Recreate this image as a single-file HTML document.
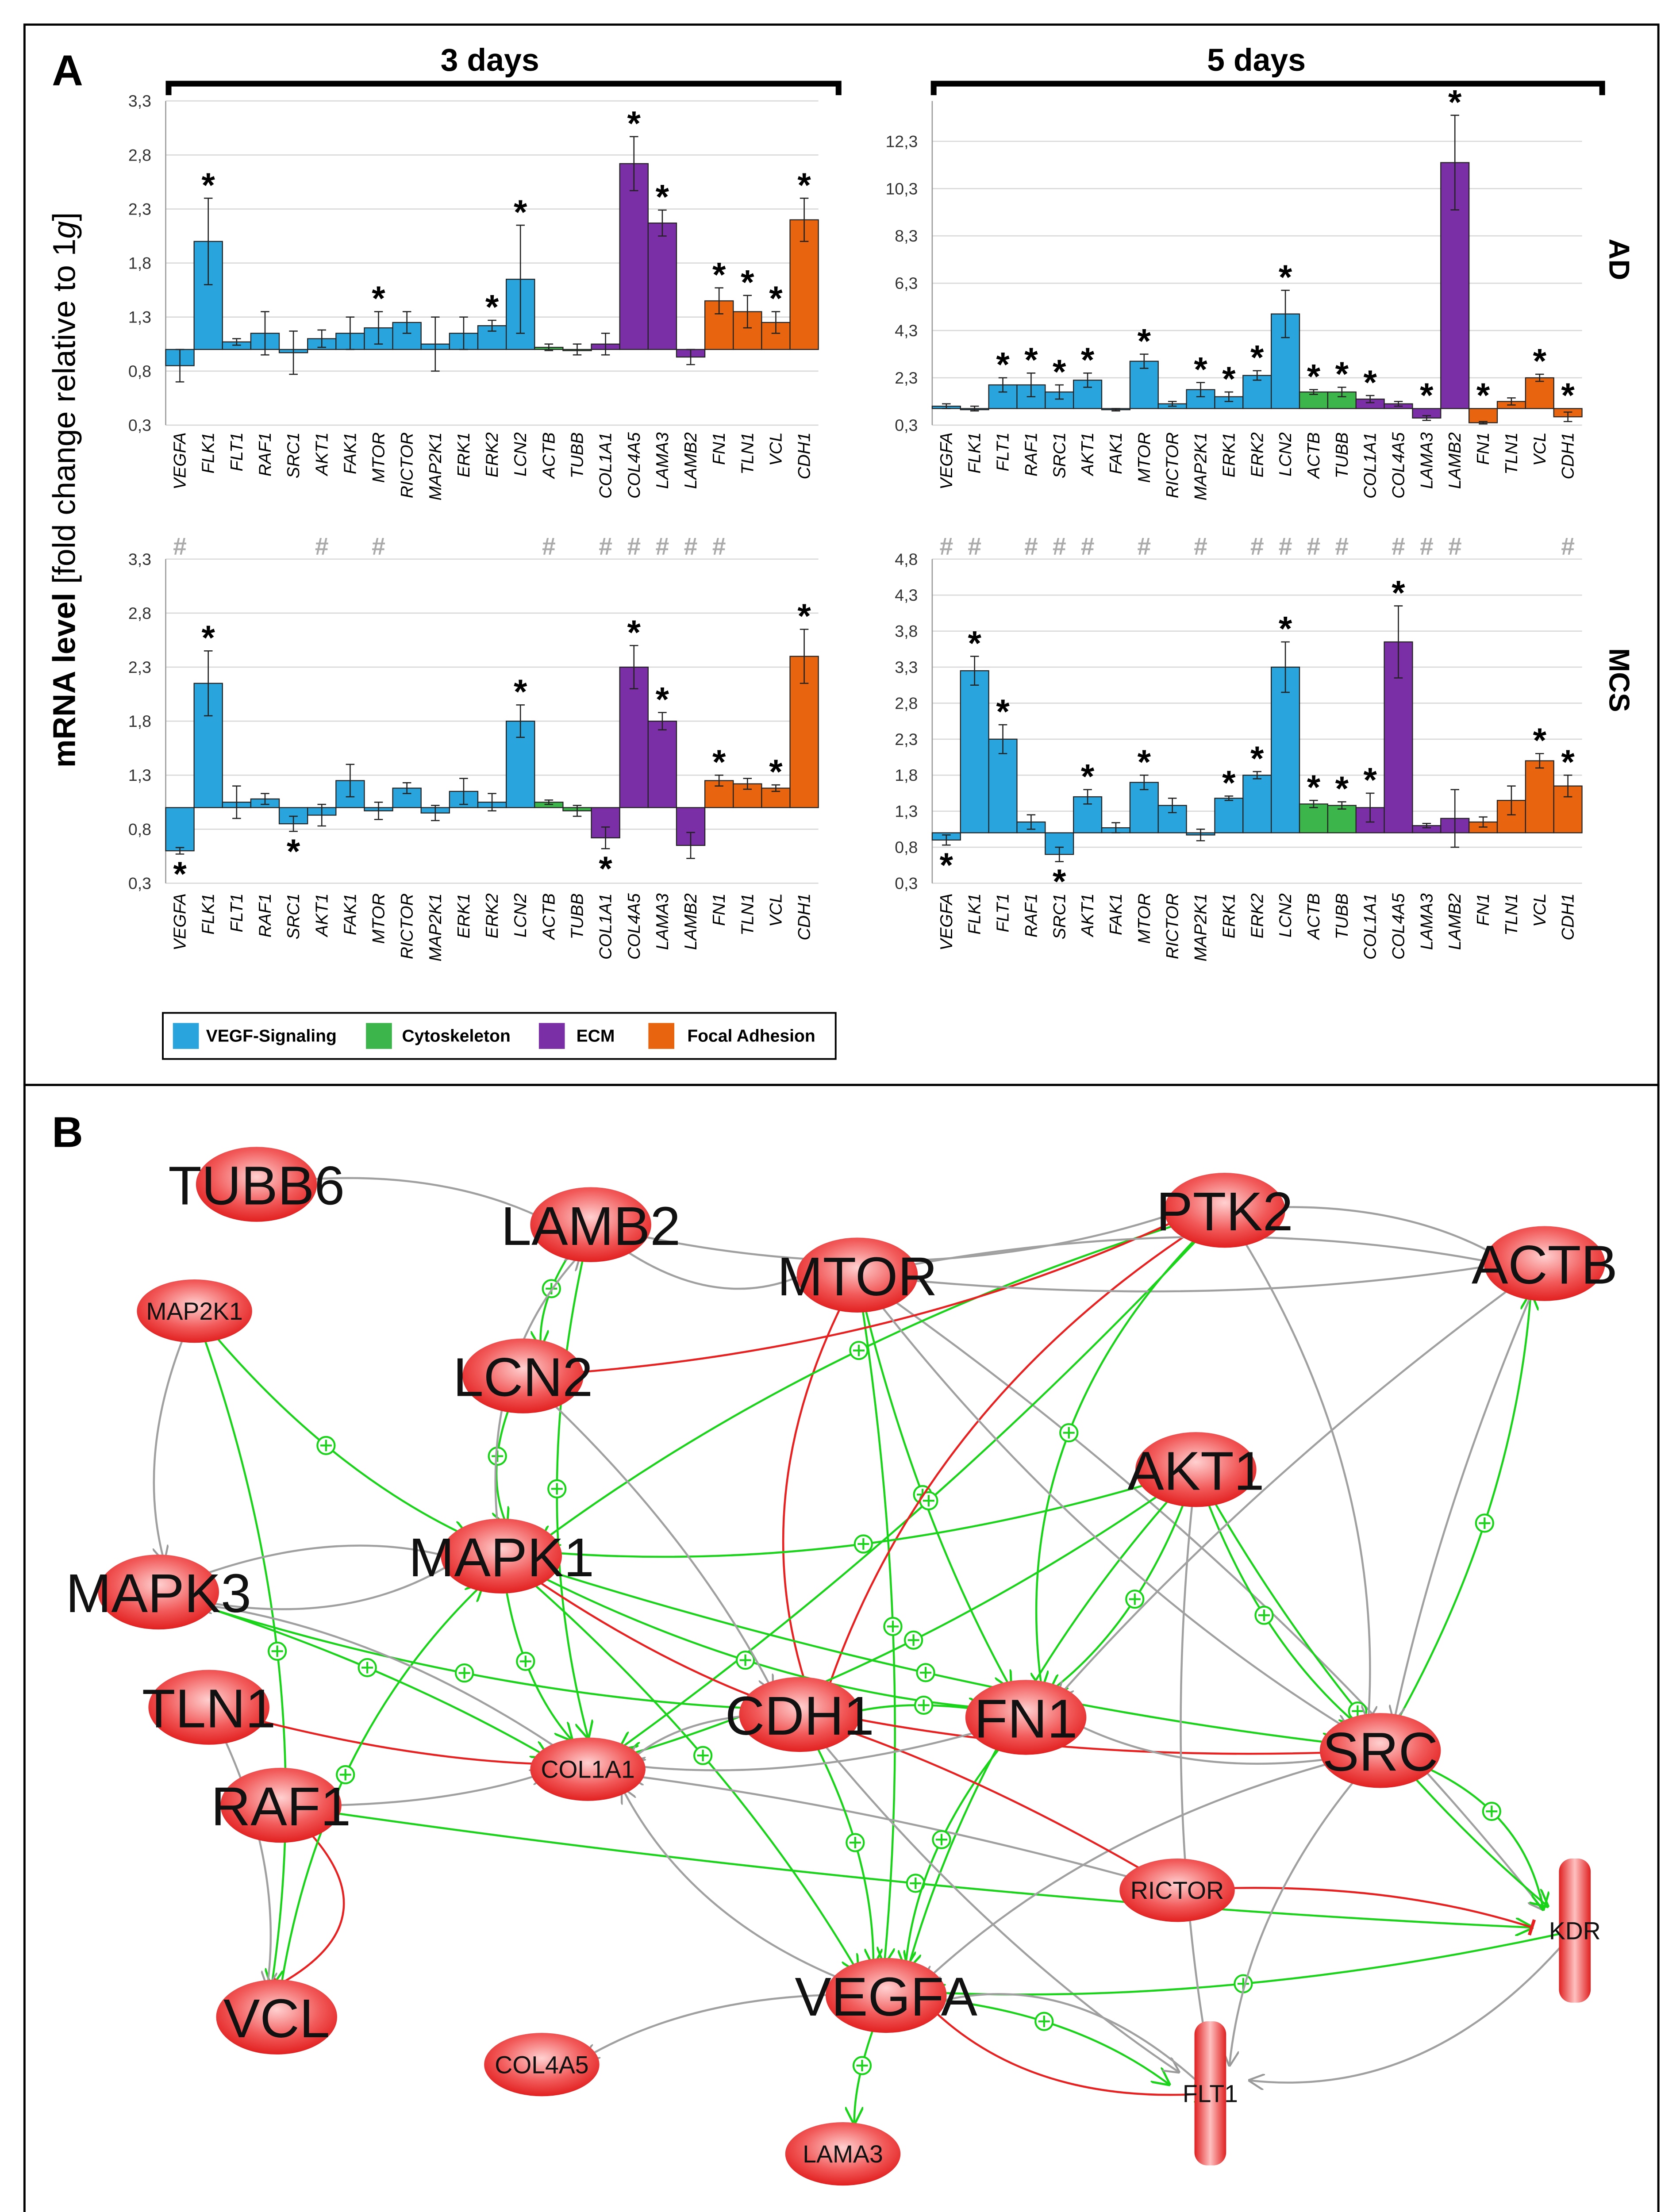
<!DOCTYPE html>
<html><head><meta charset="utf-8">
<style>
html,body{margin:0;padding:0;background:#fff;width:3797px;height:5061px;overflow:hidden;}
svg{display:block;position:absolute;left:0;top:0;font-family:"Liberation Sans",Arial,sans-serif;}
</style></head>
<body>
<svg id="fig" width="3797" height="5061" viewBox="0 0 1166 1554" xmlns="http://www.w3.org/2000/svg">
<defs>
<radialGradient id="ng" cx="50%" cy="40%" r="60%">
<stop offset="0" stop-color="#ffd0d0"/><stop offset="0.6" stop-color="#f25a5a"/><stop offset="1" stop-color="#e22020"/>
</radialGradient>
<linearGradient id="rg" x1="0" x2="1"><stop offset="0" stop-color="#e02020"/><stop offset="0.5" stop-color="#ffc0c0"/><stop offset="1" stop-color="#e02020"/></linearGradient>
<marker id="ag" viewBox="0 0 10 10" refX="9" refY="5" markerWidth="8" markerHeight="8" orient="auto"><path d="M0,0 L10,5 L0,10" fill="none" stroke="#999" stroke-width="1.2"/></marker>
<marker id="agr" viewBox="0 0 10 10" refX="9" refY="5" markerWidth="9" markerHeight="9" orient="auto"><path d="M0,0 L10,5 L0,10" fill="none" stroke="#19d419" stroke-width="1.2"/></marker>
<marker id="ar" viewBox="0 0 10 10" refX="5" refY="5" markerWidth="8" markerHeight="8" orient="auto"><path d="M5,0 L5,10" stroke="#e82020" stroke-width="2"/></marker>
</defs>
<rect x="17" y="17" width="1134" height="736" fill="none" stroke="#000" stroke-width="1.5"/>
<rect x="17" y="753" width="1134" height="797" fill="none" stroke="#000" stroke-width="1.5"/>
<text x="36" y="59" font-size="30" font-weight="bold">A</text>
<text x="36" y="796" font-size="30" font-weight="bold">B</text>
<text transform="translate(52,340) rotate(-90)" text-anchor="middle" font-size="22"><tspan font-weight="bold">mRNA level</tspan> [fold change relative to 1<tspan font-style="italic">g</tspan>]</text>
<text x="340" y="49" text-anchor="middle" font-size="22" font-weight="bold">3 days</text>
<text x="872" y="49" text-anchor="middle" font-size="22" font-weight="bold">5 days</text>
<path d="M117,66 V58 H582 V66" fill="none" stroke="#000" stroke-width="4"/>
<path d="M648,66 V58 H1112 V66" fill="none" stroke="#000" stroke-width="4"/>
<text transform="translate(1117,180) rotate(90)" text-anchor="middle" font-size="20" font-weight="bold">AD</text>
<text transform="translate(1117,472) rotate(90)" text-anchor="middle" font-size="20" font-weight="bold">MCS</text>
<g id="charts"></g>
<g>
<rect x="113" y="703" width="467" height="32" fill="#fff" stroke="#000" stroke-width="1.2"/>
<rect x="120" y="710" width="18" height="18" fill="#2aa4dc"/><text x="143" y="723" font-size="12" font-weight="bold">VEGF-Signaling</text>
<rect x="254" y="710" width="18" height="18" fill="#3cb54a"/><text x="279" y="723" font-size="12" font-weight="bold">Cytoskeleton</text>
<rect x="374" y="710" width="18" height="18" fill="#7b2fa6"/><text x="400" y="723" font-size="12" font-weight="bold">ECM</text>
<rect x="450" y="710" width="18" height="18" fill="#e8640e"/><text x="477" y="723" font-size="12" font-weight="bold">Focal Adhesion</text>
</g>
<g id="net"></g>
</svg>
<script>
const NS="http://www.w3.org/2000/svg";
const categories=["VEGFA","FLK1","FLT1","RAF1","SRC1","AKT1","FAK1","MTOR","RICTOR","MAP2K1","ERK1","ERK2","LCN2","ACTB","TUBB","COL1A1","COL4A5","LAMA3","LAMB2","FN1","TLN1","VCL","CDH1"];
const groups=["b","b","b","b","b","b","b","b","b","b","b","b","b","g","g","p","p","p","p","o","o","o","o"];
const ad3Values=[0.85,2.0,1.07,1.15,0.97,1.1,1.15,1.2,1.25,1.05,1.15,1.22,1.65,1.02,1.0,1.05,2.72,2.17,0.93,1.45,1.35,1.25,2.2];
const ad3Errors=[0.15,0.4,0.03,0.2,0.2,0.08,0.15,0.15,0.1,0.25,0.15,0.05,0.5,0.03,0.05,0.1,0.25,0.12,0.07,0.12,0.15,0.1,0.2];
const ad3Stars=["FLK1","MTOR","ERK2","LCN2","COL4A5","LAMA3","FN1","TLN1","VCL","CDH1"];
const ad5Values=[1.1,1.0,2.0,2.0,1.7,2.2,0.95,3.0,1.2,1.8,1.5,2.4,5.0,1.7,1.7,1.4,1.2,0.6,11.4,0.4,1.3,2.3,0.65];
const ad5Errors=[0.1,0.1,0.3,0.5,0.3,0.3,0.05,0.3,0.1,0.3,0.2,0.2,1.0,0.1,0.2,0.15,0.1,0.1,2.0,0.05,0.15,0.15,0.2];
const ad5Stars=["FLT1","RAF1","SRC1","AKT1","MTOR","MAP2K1","ERK1","ERK2","LCN2","ACTB","TUBB","COL1A1","LAMA3","LAMB2","FN1","VCL","CDH1"];
const mcs3Values=[0.6,2.15,1.05,1.08,0.85,0.93,1.25,0.97,1.18,0.95,1.15,1.05,1.8,1.05,0.97,0.72,2.3,1.8,0.65,1.25,1.22,1.18,2.4];
const mcs3Errors=[0.03,0.3,0.15,0.05,0.07,0.1,0.15,0.08,0.05,0.07,0.12,0.08,0.15,0.02,0.05,0.1,0.2,0.08,0.12,0.05,0.05,0.03,0.25];
const mcs3StarsAbove=["FLK1","LCN2","COL4A5","LAMA3","FN1","VCL","CDH1"];
const mcs3StarsBelow=["VEGFA","SRC1","COL1A1"];
const mcs3Hashes=["VEGFA","AKT1","MTOR","ACTB","COL1A1","COL4A5","LAMA3","LAMB2","FN1"];
const mcs5Values=[0.9,3.25,2.3,1.15,0.7,1.5,1.07,1.7,1.38,0.97,1.48,1.8,3.3,1.4,1.38,1.35,3.65,1.1,1.2,1.15,1.45,2.0,1.65];
const mcs5Errors=[0.07,0.2,0.2,0.1,0.1,0.1,0.07,0.1,0.1,0.08,0.03,0.05,0.35,0.05,0.05,0.2,0.5,0.03,0.4,0.07,0.2,0.1,0.15];
const mcs5StarsAbove=["FLK1","FLT1","AKT1","MTOR","ERK1","ERK2","LCN2","ACTB","TUBB","COL1A1","COL4A5","VCL","CDH1"];
const mcs5StarsBelow=["VEGFA","SRC1"];
const mcs5Hashes=["VEGFA","FLK1","RAF1","SRC1","AKT1","MTOR","MAP2K1","ERK2","LCN2","ACTB","TUBB","COL4A5","LAMA3","LAMB2","CDH1"];
const ticksA=[0.3,0.8,1.3,1.8,2.3,2.8,3.3];
const ticksB=[0.3,2.3,4.3,6.3,8.3,10.3,12.3];
const ticksD=[0.3,0.8,1.3,1.8,2.3,2.8,3.3,3.8,4.3,4.8];
const COL={b:"#2aa4dc",g:"#3cb54a",p:"#7b2fa6",o:"#e8640e"};

function el(tag,attrs,parent){const e=document.createElementNS(NS,tag);for(const k in attrs)e.setAttribute(k,attrs[k]);parent.appendChild(e);return e;}

function chart(name,o){
  const g=el("g",{},document.getElementById("charts"));
  
  
  const y=v=>o.yBot-(v-o.vmin)/(o.vmax-o.vmin)*(o.yBot-o.yTopTick);
  const step=(o.x1-o.x0)/categories.length;
  o.ticks.forEach(t=>{
    el("line",{x1:o.x0,x2:o.x1,y1:y(t),y2:y(t),stroke:"#d8d8d8","stroke-width":0.8},g);
    const tx=el("text",{x:o.x0-10,y:y(t)+4,"text-anchor":"end","font-size":11.5,fill:"#333"},g);
    tx.textContent=String(t).replace(".",",");
    
    
  });
  el("line",{x1:o.x0,x2:o.x0,y1:o.plotTop,y2:o.yBot,stroke:"#999","stroke-width":0.8},g);
  const base=y(1.0);
  categories.forEach((c,i)=>{
    const cx=o.x0+step*(i+0.5), v=o.values[i], e=o.errors[i];
    const top=Math.min(y(v),base), h=Math.abs(y(v)-base);
    const r=el("rect",{x:cx-step/2,y:top,width:step,height:Math.max(h,0.8),fill:COL[groups[i]],stroke:"#222","stroke-width":0.7},g);
    
    
    const ya=y(v+e), yb=y(v-e);
    el("path",{d:`M${cx},${ya}V${yb}M${cx-3},${ya}H${cx+3}M${cx-3},${yb}H${cx+3}`,stroke:"#222","stroke-width":0.8,fill:"none"},g);
    if(o.starsAbove.includes(c)){const s=el("text",{x:cx,y:Math.min(ya,top)-1,"text-anchor":"middle","font-size":24,"font-weight":"bold"},g);s.textContent="*";
      
      }
    if(o.starsBelow.includes(c)){const s=el("text",{x:cx,y:Math.max(yb,top+h)+22,"text-anchor":"middle","font-size":24,"font-weight":"bold"},g);s.textContent="*";
      
      }
    if(o.hashes.includes(c)){const s=el("text",{x:cx,y:o.hashY,"text-anchor":"middle","font-size":17,"font-weight":"bold",fill:"#aaa"},g);s.textContent="#";
      
      }
    const lb=el("text",{transform:`translate(${cx+4},${o.labelY}) rotate(-90)`,"text-anchor":"end","font-size":12,"font-style":"italic"},g);
    lb.textContent=c;
    
    
  });
}
chart("chart-3d-ad",{x0:115,x1:568,vmin:0.3,vmax:3.3,yBot:295,yTopTick:70,plotTop:70,ticks:ticksA,values:ad3Values,errors:ad3Errors,starsAbove:ad3Stars,starsBelow:[],hashes:[],labelY:300,hashY:0});
chart("chart-5d-ad",{x0:647,x1:1098,vmin:0.3,vmax:12.3,yBot:295,yTopTick:98,plotTop:70,ticks:ticksB,values:ad5Values,errors:ad5Errors,starsAbove:ad5Stars,starsBelow:[],hashes:[],labelY:300,hashY:0});
chart("chart-3d-mcs",{x0:115,x1:568,vmin:0.3,vmax:3.3,yBot:613,yTopTick:388,plotTop:388,ticks:ticksA,values:mcs3Values,errors:mcs3Errors,starsAbove:mcs3StarsAbove,starsBelow:mcs3StarsBelow,hashes:mcs3Hashes,labelY:620,hashY:385});
chart("chart-5d-mcs",{x0:647,x1:1098,vmin:0.3,vmax:4.8,yBot:613,yTopTick:388,plotTop:388,ticks:ticksD,values:mcs5Values,errors:mcs5Errors,starsAbove:mcs5StarsAbove,starsBelow:mcs5StarsBelow,hashes:mcs5Hashes,labelY:620,hashY:385});

// network
const nodeNames=["TUBB6","LAMB2","MAP2K1","MTOR","PTK2","ACTB","LCN2","AKT1","MAPK1","MAPK3","TLN1","CDH1","FN1","SRC","COL1A1","RAF1","RICTOR","KDR","VEGFA","VCL","COL4A5","FLT1","LAMA3"];
const nodeX=[178,410,135,595,850,1072,363,830,348,110,145,555,712,958,408,195,817,1093,615,192,376,840,585];
const nodeY=[822,850,910,885,840,877,955,1020,1080,1105,1185,1190,1192,1215,1228,1253,1312,1340,1385,1400,1433,1453,1495];
const nodeBig=[1,1,0,1,1,1,1,1,1,1,1,1,1,1,0,1,0,0,1,1,0,0,0];
const edgeFrom=["MAP2K1","MAP2K1","LAMB2","LAMB2","MTOR","MTOR","MTOR","MTOR","PTK2","PTK2","PTK2","AKT1","AKT1","AKT1","AKT1","MAPK1","MAPK1","MAPK1","MAPK1","MAPK3","MAPK3","TLN1","RAF1","RAF1","SRC","SRC","SRC","RICTOR","RICTOR","VEGFA","VEGFA","VEGFA","FN1","FN1","CDH1","CDH1","KDR","FLT1","LCN2","LCN2","VCL","ACTB","MTOR","PTK2","AKT1","SRC","MAPK1","FLT1","RICTOR","MAPK3","TUBB6","LAMB2","AKT1","PTK2","MAPK3","MAP2K1","LCN2","MTOR","PTK2","AKT1","SRC","FN1","CDH1","VEGFA","RAF1","TLN1","COL1A1","MAPK1","MTOR","ACTB","SRC","FLT1","KDR","LAMB2"];
const edgeTo=["MAPK1","VCL","LCN2","COL1A1","VEGFA","FN1","CDH1","KDR","MAPK1","COL1A1","CDH1","VEGFA","FN1","MAPK1","SRC","COL1A1","CDH1","VEGFA","FN1","COL1A1","CDH1","COL1A1","VCL","KDR","ACTB","KDR","VEGFA","COL1A1","KDR","COL4A5","LAMA3","FLT1","CDH1","VEGFA","VEGFA","FLT1","VEGFA","FLT1","MAPK1","PTK2","MAPK1","SRC","ACTB","ACTB","KDR","CDH1","SRC","VEGFA","CDH1","MAPK1","LAMB2","PTK2","COL1A1","FN1","MAPK1","MAPK3","CDH1","SRC","SRC","FLT1","FLT1","COL1A1","COL1A1","COL1A1","COL1A1","VCL","MAPK3","LAMB2","ACTB","FN1","FN1","VEGFA","FLT1","MTOR"];
const edgeColor=["g","g","g","g","g","g","r","y","g","g","r","g","g","g","g","g","r","g","g","g","g","r","r","g","g","g","y","y","r","y","g","g","g","g","g","y","g","g","g","r","g","y","y","y","g","r","g","r","r","y","y","y","g","g","y","y","y","y","y","y","y","y","y","y","y","y","y","y","y","y","y","y","y","y"];
const edgeBend=[20,-40,10,30,-20,15,40,-30,30,-20,50,30,-20,-30,20,15,10,-20,25,-10,20,10,-60,15,25,-30,30,10,-15,20,5,-20,10,20,-15,20,-20,10,15,30,-40,10,20,-20,25,-15,20,-30,10,30,-20,40,-25,60,-25,20,-15,30,-40,20,25,-20,15,-30,10,-20,25,-35,-30,15,-25,40,-45,35];
const netG=document.getElementById("net");
const idx=n=>nodeNames.indexOf(n);
edgeFrom.forEach((f,i)=>{
  const a=idx(f),b=idx(edgeTo[i]);
  const x1=nodeX[a],y1=nodeY[a],x2=nodeX[b],y2=nodeY[b];
  const mx=(x1+x2)/2,my=(y1+y2)/2,dx=x2-x1,dy=y2-y1,L=Math.hypot(dx,dy)||1;
  const cx=mx-dy/L*edgeBend[i]*1.5, cy=my+dx/L*edgeBend[i]*1.5;
  const c=edgeColor[i], col=c==="g"?"#19d419":c==="r"?"#e82020":"#a0a0a0";
  const p=el("path",{d:`M${x1},${y1} Q${cx},${cy} ${x2-(dx/L)*30},${y2-(dy/L)*22}`,fill:"none",stroke:col,"stroke-width":1.4,"marker-end":c==="g"?"url(#agr)":c==="r"?"url(#ar)":"url(#ag)"},netG);
  
  
  if(c==="g"){
    const qx=0.25*x1+0.5*cx+0.25*(x2-(dx/L)*30), qy=0.25*y1+0.5*cy+0.25*(y2-(dy/L)*22);
    const pl=el("g",{},netG);
    
    
    el("circle",{cx:qx,cy:qy,r:6,fill:"#fff",stroke:"#19d419","stroke-width":1.3},pl);
    el("path",{d:`M${qx-4},${qy}H${qx+4}M${qx},${qy-4}V${qy+4}`,stroke:"#19d419","stroke-width":1.3},pl);
  }
});
nodeNames.forEach((n,i)=>{
  const g=el("g",{},netG);
  
  
  const x=nodeX[i],y=nodeY[i];
  if(n==="KDR"||n==="FLT1"){
    el("rect",{x:x-11,y:y-50,width:22,height:100,rx:9,fill:"url(#rg)"},g);
  }else{
    el("ellipse",{cx:x,cy:y,rx:nodeBig[i]?42:40,ry:nodeBig[i]?26:22,fill:"url(#ng)"},g);
  }
  const t=el("text",{x:x,y:y+(nodeBig[i]?14:6),"text-anchor":"middle","font-size":nodeBig[i]?38:17,fill:"#111"},g);
  t.textContent=n;
});
</script>
</body></html>
